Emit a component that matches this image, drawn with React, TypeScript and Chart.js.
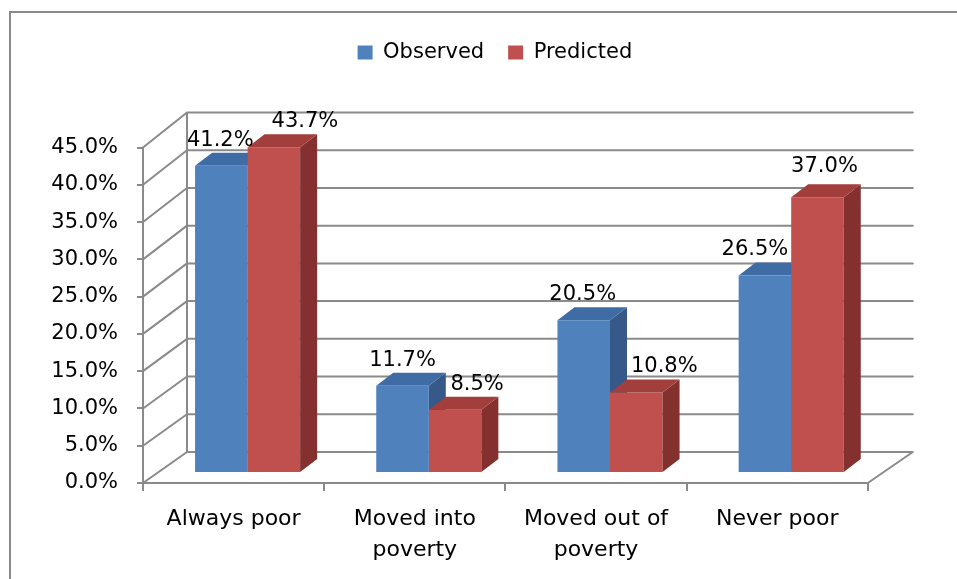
import React, { useEffect, useRef } from 'react';
import { Chart, registerables } from 'chart.js';

Chart.register(...registerables);

// Poverty transition shares (%)
const categories: (string | string[])[] = [
  'Always poor',
  ['Moved into', 'poverty'],
  ['Moved out of', 'poverty'],
  'Never poor',
];
const seriesNames = ['Observed', 'Predicted'];
const observed = [41.2, 11.7, 20.5, 26.5];
const predicted = [43.7, 8.5, 10.8, 37.0];
const yMin = 0;
const yMax = 45;
const yStep = 5;

const FONT = "'DejaVu Sans', sans-serif";
const LINE = '#8a8a8a';

// pseudo-3D geometry (pixels)
const WALL_DX = 44; // front plane -> back wall, horizontal shift
const wallDy = (v: number) => -31 - (4 * v) / yMax; // vertical shift (slight perspective)
const BAR_DX = 14; // front plane -> bar front faces
const BAR_DY = -10;
const DEPTH_DX = 17; // bar depth
const DEPTH_DY = -13;

const shades = [
  { front: '#4F81BD', top: '#3F6CA4', side: '#36598A' },
  { front: '#C0504D', top: '#A23E3B', side: '#83302E' },
];

// hand placement of value labels relative to the bar front centre
const labelNudge = [
  [[-1, 0], [0, 0], [-1, 0], [-10, 0]],
  [[31, 0], [22, 0], [28, 0], [7, -5]],
];

function barBox(chart: any, ds: number, i: number) {
  const el = chart.getDatasetMeta(ds).data[i];
  const p = el.getProps(['x', 'y', 'base', 'width'], true);
  const left = p.x - p.width / 2 + BAR_DX;
  const right = p.x + p.width / 2 + BAR_DX;
  return { left, right, cx: p.x + BAR_DX, top: p.y + BAR_DY, bottom: p.base + BAR_DY };
}

function poly(ctx: CanvasRenderingContext2D, pts: number[][], fill: string) {
  ctx.beginPath();
  ctx.moveTo(pts[0][0], pts[0][1]);
  for (let k = 1; k < pts.length; k++) ctx.lineTo(pts[k][0], pts[k][1]);
  ctx.closePath();
  ctx.fillStyle = fill;
  ctx.fill();
}

function drawTopAndSide(chart: any, ds: number) {
  const ctx: CanvasRenderingContext2D = chart.ctx;
  const meta = chart.getDatasetMeta(ds);
  meta.data.forEach((_: any, i: number) => {
    const b = barBox(chart, ds, i);
    poly(ctx, [
      [b.right, b.top], [b.right + DEPTH_DX, b.top + DEPTH_DY],
      [b.right + DEPTH_DX, b.bottom + DEPTH_DY], [b.right, b.bottom],
    ], shades[ds].side);
    poly(ctx, [
      [b.left, b.top], [b.left + DEPTH_DX, b.top + DEPTH_DY],
      [b.right + DEPTH_DX, b.top + DEPTH_DY], [b.right, b.top],
    ], shades[ds].top);
  });
}

const scene3d = {
  id: 'scene3d',
  beforeDraw(chart: any) {
    const ctx: CanvasRenderingContext2D = chart.ctx;
    ctx.save();
    ctx.fillStyle = LINE;
    ctx.fillRect(9, 11, chart.width, 2);
    ctx.fillRect(9, 11, 2, chart.height);
    ctx.restore();
  },
  beforeDatasetsDraw(chart: any) {
    const ctx: CanvasRenderingContext2D = chart.ctx;
    const { left, right, bottom } = chart.chartArea;
    const ys = chart.scales.y;
    ctx.save();
    ctx.strokeStyle = LINE;
    ctx.lineWidth = 2;
    ctx.lineCap = 'round';
    const backLeft = left + WALL_DX;
    const backRight = right + WALL_DX + 1;
    ctx.beginPath();
    for (let v = yMin; v <= yMax; v += yStep) {
      const fy = ys.getPixelForValue(v);
      const by = fy + wallDy(v);
      // side wall diagonal
      ctx.moveTo(left, fy);
      ctx.lineTo(backLeft, by);
      // back wall gridline
      ctx.moveTo(backLeft, by);
      ctx.lineTo(backRight, by);
    }
    // back wall left edge
    const b0 = ys.getPixelForValue(yMin) + wallDy(yMin);
    const b1 = ys.getPixelForValue(yMax) + wallDy(yMax);
    ctx.moveTo(backLeft, b0);
    ctx.lineTo(backLeft, b1);
    // floor right edge
    ctx.moveTo(right, bottom);
    ctx.lineTo(backRight, b0);
    ctx.stroke();
    ctx.restore();

    // first series: tops and sides sit behind the second series' fronts
    ctx.save();
    drawTopAndSide(chart, 0);
    ctx.restore();

    ctx.save();
    ctx.translate(BAR_DX, BAR_DY);
  },
  afterDatasetsDraw(chart: any) {
    const ctx: CanvasRenderingContext2D = chart.ctx;
    ctx.restore();
    ctx.save();
    drawTopAndSide(chart, 1);

    ctx.fillStyle = '#000';
    ctx.font = `21px ${FONT}`;
    ctx.textAlign = 'center';
    ctx.textBaseline = 'alphabetic';
    chart.data.datasets.forEach((d: any, ds: number) => {
      d.data.forEach((v: number, i: number) => {
        const b = barBox(chart, ds, i);
        const [nx, ny] = labelNudge[ds][i];
        ctx.fillText(`${v.toFixed(1)}%`, b.cx + nx, b.top + DEPTH_DY - 7 + ny);
      });
    });
    ctx.restore();
  },
};

export default function App() {
  const ref = useRef<HTMLCanvasElement | null>(null);

  useEffect(() => {
    if (!ref.current) return;
    const chart = new Chart(ref.current, {
      type: 'bar',
      data: {
        labels: categories,
        datasets: [
          {
            label: seriesNames[0],
            data: observed,
            backgroundColor: shades[0].front,
            borderWidth: 0,
            categoryPercentage: 0.58,
            barPercentage: 1,
            clip: false,
          },
          {
            label: seriesNames[1],
            data: predicted,
            backgroundColor: shades[1].front,
            borderWidth: 0,
            categoryPercentage: 0.58,
            barPercentage: 1,
            clip: false,
          },
        ],
      },
      options: {
        responsive: false,
        animation: false,
        events: [],
        layout: { padding: { left: 45, right: 12.2, top: 18, bottom: 0 } },
        plugins: {
          tooltip: { enabled: false },
          legend: {
            position: 'top',
            labels: {
              boxWidth: 15,
              boxHeight: 14,
              padding: 24,
              color: '#000',
              font: { family: FONT, size: 21 },
            },
          },
          title: {
            display: true,
            text: '',
            weight: 500,
            padding: { top: 0, bottom: 64.5 },
            font: { size: 10, lineHeight: 1 },
          },
        },
        scales: {
          x: {
            ticks: {
              padding: 13,
              color: '#000',
              maxRotation: 0,
              autoSkip: false,
              font: { family: FONT, size: 22, lineHeight: 31 / 22 },
            },
            grid: { offset: true, drawOnChartArea: false, tickLength: 8, color: LINE, lineWidth: 2 },
            border: { color: LINE, width: 2 },
            afterFit: (s: any) => {
              s.height = 96;
            },
          },
          y: {
            min: yMin,
            max: yMax,
            ticks: {
              stepSize: yStep,
              padding: 19,
              color: '#000',
              font: { family: FONT, size: 21 },
              callback: (v: any) => `${Number(v).toFixed(1)}%`,
            },
            grid: { drawOnChartArea: false, tickLength: 6, color: LINE, lineWidth: 2 },
            border: { color: LINE, width: 2 },
            afterFit: (s: any) => {
              s.width = 98;
            },
          },
          // empty right-hand band that holds the receding back wall
          yWall: {
            position: 'right',
            display: true,
            grid: { display: false, drawTicks: false },
            ticks: { display: false },
            border: { display: false },
            afterFit: (s: any) => {
              s.width = 77;
            },
          },
        },
      },
      plugins: [scene3d],
    } as any);
    return () => chart.destroy();
  }, []);

  return (
    <div style={{ position: 'fixed', left: 0, top: 0, width: 957, height: 579, background: '#fff' }}>
      <canvas ref={ref} width={957} height={579} />
    </div>
  );
}
